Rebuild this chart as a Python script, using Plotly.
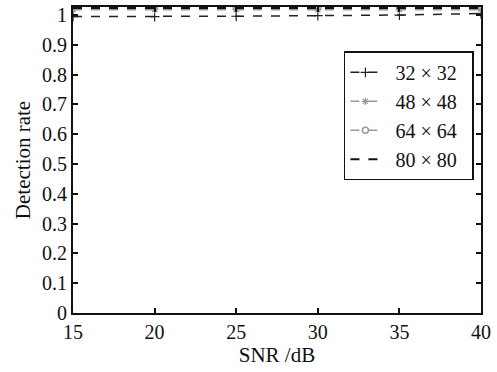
import plotly.graph_objects as go

snr = [15, 20, 25, 30, 35, 40]
rate_32 = [0.995, 0.995, 0.996, 0.998, 1.0, 1.005]
rate_48 = [1.018, 1.018, 1.018, 1.018, 1.018, 1.018]
rate_64 = [1.025, 1.025, 1.025, 1.025, 1.025, 1.025]
rate_80 = [1.024, 1.024, 1.024, 1.024, 1.024, 1.024]
names = ["32 × 32", "48 × 48", "64 × 64", "80 × 80"]
y_ticks = [0, 0.1, 0.2, 0.3, 0.4, 0.5, 0.6, 0.7, 0.8, 0.9, 1]
y_ticklabels = ["0", "0.1", "0.2", "0.3", "0.4", "0.5", "0.6", "0.7", "0.8", "0.9", "1"]

FONT = "Liberation Serif"
PAD = "\u00a0\u00a0"


def label(name):
    return PAD + name + PAD


fig = go.Figure()
fig.add_trace(go.Scatter(x=snr, y=rate_32, name=label(names[0]), mode="lines+markers",
                         line=dict(color="#222", dash="dash", width=1.5),
                         marker=dict(symbol="cross-thin", size=7, line=dict(color="#222", width=1.2))))
fig.add_trace(go.Scatter(x=snr, y=rate_48, name=label(names[1]), mode="lines+markers",
                         line=dict(color="#999", dash="dash", width=1.5),
                         marker=dict(symbol="asterisk-open", size=6, line=dict(color="#999", width=1.2))))
fig.add_trace(go.Scatter(x=snr, y=rate_64, name=label(names[2]), mode="lines+markers",
                         line=dict(color="#999", dash="dash", width=1.5),
                         marker=dict(symbol="circle-open", size=6, color="#999", line=dict(color="#999", width=1.5))))
fig.add_trace(go.Scatter(x=snr, y=rate_80, name=label(names[3]), mode="lines",
                         line=dict(color="#111", dash="dash", width=2)))

fig.update_layout(
    width=497, height=372,
    margin=dict(l=73, r=16, t=7, b=59),
    paper_bgcolor="white", plot_bgcolor="white",
    font=dict(family=FONT, size=20, color="#111"),
    showlegend=True,
    legend=dict(x=0.664, y=0.855, xanchor="left", yanchor="top",
                bordercolor="#111", borderwidth=1.5, bgcolor="white",
                font=dict(family=FONT, size=20), tracegroupgap=0, itemwidth=30),
    xaxis=dict(range=[15, 40], tickvals=snr, ticks="inside", ticklen=5, tickwidth=1.5,
               showgrid=False, zeroline=False, showline=True, linecolor="#111", linewidth=2,
               mirror="ticks", automargin=False, tickfont=dict(family=FONT, size=20),
               title=dict(text="SNR /dB", standoff=4, font=dict(family=FONT, size=21)),
               tickcolor="#111"),
    yaxis=dict(range=[0, 1.027], tickvals=y_ticks, ticktext=y_ticklabels, ticks="inside",
               ticklen=5, tickwidth=1.5, showgrid=False, zeroline=False, showline=True,
               linecolor="#111", linewidth=2, mirror="ticks", automargin=False,
               tickfont=dict(family=FONT, size=20),
               title=dict(text="Detection rate", standoff=6, font=dict(family=FONT, size=21)),
               tickcolor="#111"),
)

fig.write_html("out.html", config={"displayModeBar": False})
with open("out.html", "r", encoding="utf-8") as f:
    html = f.read()
html = html.replace("<body>", '<body style="margin:0;padding:0;overflow:hidden">', 1)
with open("out.html", "w", encoding="utf-8") as f:
    f.write(html)
